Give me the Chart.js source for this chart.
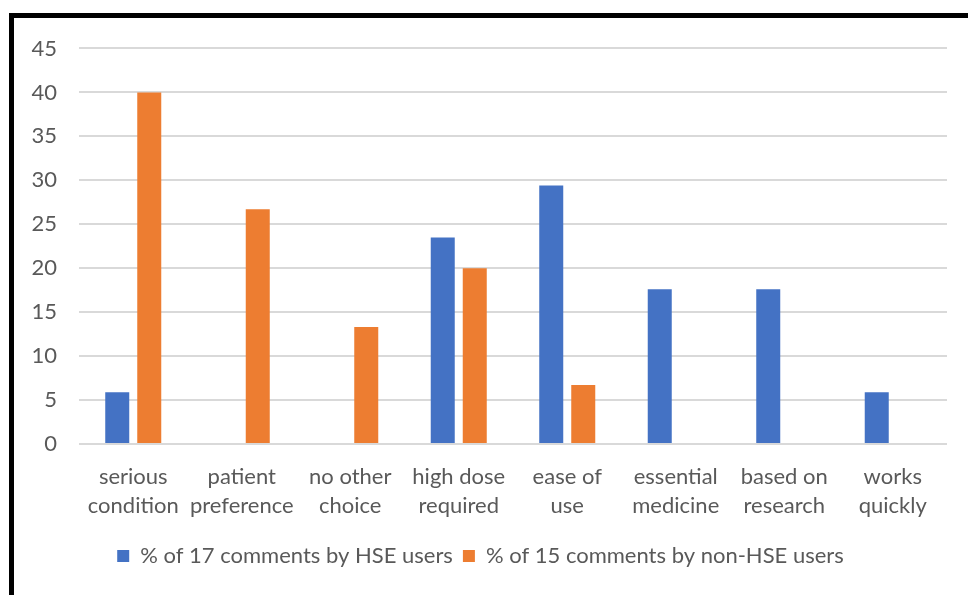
<!DOCTYPE html>
<html>
<head>
<meta charset="utf-8">
<script src="https://cdn.jsdelivr.net/npm/chart.js@4/dist/chart.umd.min.js"></script>
<style>
  html, body { margin: 0; padding: 0; background: #fff; overflow: hidden; }
  #frame {
    position: absolute; left: 9px; top: 13px;
    width: 954px; height: 577px;
    border-top: 5px solid #000; border-left: 5px solid #000;
  }
  #chart { display: block; }
</style>
</head>
<body>
<div id="frame"><canvas id="chart" width="954" height="577"></canvas></div>
<script>
// Reasons given in comments, as % of comments per user group
const categories = [
  ['serious', 'condition'],
  ['patient', 'preference'],
  ['no other', 'choice'],
  ['high dose', 'required'],
  ['ease of', 'use'],
  ['essential', 'medicine'],
  ['based on', 'research'],
  ['works', 'quickly']
];
const hseValues = [5.9, 0, 0, 23.5, 29.4, 17.6, 17.6, 5.9];
const nonHseValues = [40, 26.7, 13.3, 20, 6.7, 0, 0, 0];
const seriesNames = ['% of 17 comments by HSE users', '% of 15 comments by non-HSE users'];

const textColor = '#595959';
const fontFamily = 'Lato, "Open Sans", sans-serif';

const ctx = document.getElementById('chart').getContext('2d');
new Chart(ctx, {
  type: 'bar',
  data: {
    labels: categories,
    datasets: [
      {
        label: seriesNames[0],
        data: hseValues,
        backgroundColor: '#4472C4',
        categoryPercentage: 0.59,
        barPercentage: 0.75
      },
      {
        label: seriesNames[1],
        data: nonHseValues,
        backgroundColor: '#ED7D31',
        categoryPercentage: 0.59,
        barPercentage: 0.75
      }
    ]
  },
  options: {
    responsive: false,
    animation: false,
    layout: { padding: { top: 12, right: 21, bottom: 18, left: 0 } },
    plugins: {
      tooltip: { enabled: false },
      legend: {
        position: 'bottom',
        labels: {
          color: textColor,
          font: { family: fontFamily, size: 22 },
          boxWidth: 12,
          boxHeight: 12,
          padding: 10
        }
      }
    },
    scales: {
      x: {
        afterFit: s => { s.height = 91; },
        grid: { display: false },
        border: { display: false },
        ticks: {
          color: textColor,
          font: { family: fontFamily, size: 22, lineHeight: 1.32 },
          padding: 10,
          maxRotation: 0,
          autoSkip: false
        }
      },
      y: {
        min: 0,
        max: 45,
        afterFit: s => { s.width = 65; },
        grid: { color: '#D9D9D9', lineWidth: 2, drawTicks: false },
        border: { display: false },
        ticks: {
          stepSize: 5,
          color: textColor,
          font: { family: fontFamily, size: 22, lineHeight: 0.77 },
          padding: 22
        }
      }
    }
  }
});
</script>
</body>
</html>
